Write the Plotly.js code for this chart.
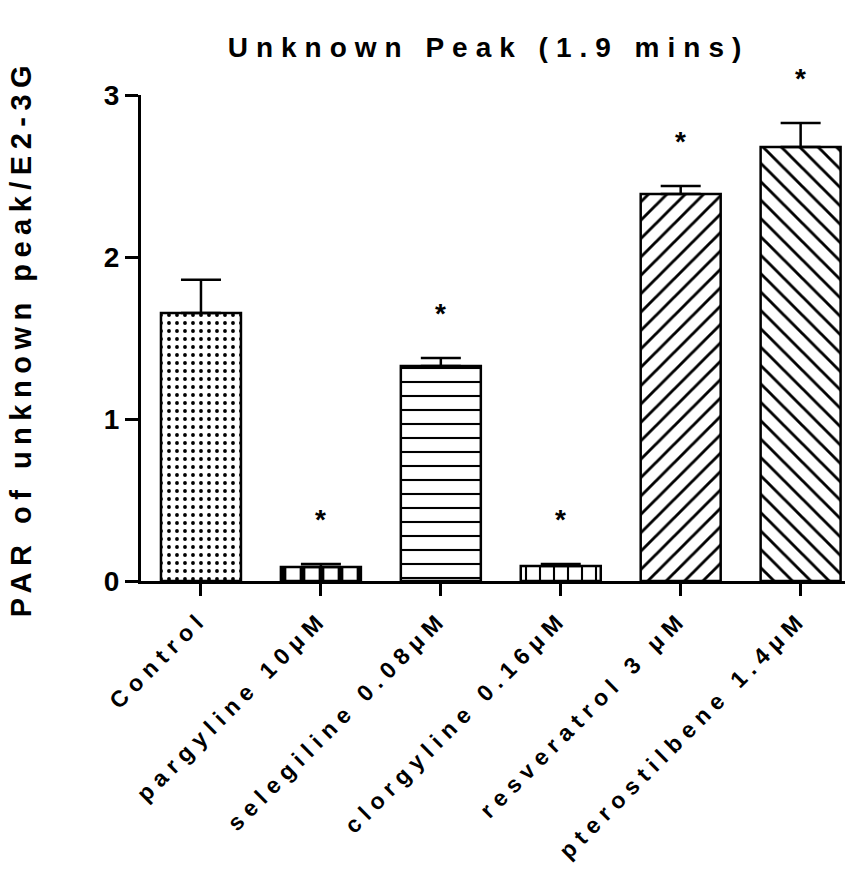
<!DOCTYPE html>
<html>
<head>
<meta charset="utf-8">
<script src="https://cdn.plot.ly/plotly-3.0.1.min.js"></script>
<style>
  body { margin: 0; padding: 0; background: #fff; }
  #chart { width: 854px; height: 869px; }
  .gtitle { letter-spacing: 8px; }
  .xtick text { letter-spacing: 6.5px; }
  .ytitle { letter-spacing: 6.5px; }
</style>
</head>
<body>
<div id="chart"></div>
<script>
// ---- data ----
const categories = ["Control", "pargyline 10μM", "selegiline 0.08μM", "clorgyline 0.16μM", "resveratrol 3 μM", "pterostilbene 1.4μM"];
const values = [1.655, 0.086, 1.327, 0.093, 2.389, 2.679];
const errors = [0.205, 0.019, 0.050, 0.012, 0.049, 0.148];
const stars = ["", "*", "*", "*", "*", "*"];
const patternShapes = [".", "|", "-", "|", "/", "\\"];
const patternSizes = [8, 19, 14, 14, 13, 13];
const patternSolidity = [0.18, 0.3, 0.15, 0.15, 0.22, 0.22];

const font = "Arial, 'Liberation Sans', Helvetica, sans-serif";

const trace = {
  type: "bar",
  x: categories,
  y: values,
  width: 0.667,
  marker: {
    color: "white",
    line: { color: "black", width: 2.5 },
    pattern: {
      shape: patternShapes,
      size: patternSizes,
      solidity: patternSolidity,
      fgcolor: "black",
      bgcolor: "white",
      fillmode: "replace"
    }
  },
  error_y: {
    type: "data",
    symmetric: false,
    array: errors,
    arrayminus: errors.map(() => 0),
    color: "black",
    thickness: 2.5,
    width: 20
  },
  hoverinfo: "none"
};

const annotations = categories.map((c, i) => ({
  x: c,
  y: values[i] + errors[i],
  xref: "x",
  yref: "y",
  text: stars[i],
  showarrow: false,
  yanchor: "bottom",
  yshift: 27,
  font: { family: font, size: 28, color: "black", weight: "bold" }
})).filter(a => a.text !== "");

const layout = {
  width: 854,
  height: 869,
  margin: { l: 141, r: 9, t: 95, b: 288 },
  paper_bgcolor: "white",
  plot_bgcolor: "white",
  showlegend: false,
  title: {
    text: "Unknown Peak (1.9 mins)",
    x: 0.572,
    xref: "container",
    xanchor: "center",
    y: 0.946,
    yref: "container",
    yanchor: "middle",
    font: { family: font, size: 28, color: "black", weight: "bold" }
  },
  xaxis: {
    type: "category",
    range: [-0.5, 5.37],
    showline: true,
    linecolor: "black",
    linewidth: 3,
    ticks: "outside",
    ticklen: 12,
    tickwidth: 3,
    tickcolor: "black",
    tickangle: -45,
    tickfont: { family: font, size: 23, color: "black", weight: "bold" },
    showgrid: false,
    zeroline: false,
    fixedrange: true
  },
  yaxis: {
    range: [0, 3],
    tickvals: [0, 1, 2, 3],
    ticktext: ["0", "1", "2", "3"],
    showline: true,
    linecolor: "black",
    linewidth: 3,
    ticks: "outside",
    ticklen: 13,
    tickwidth: 3,
    tickcolor: "black",
    tickfont: { family: font, size: 28, color: "black", weight: "bold" },
    showgrid: false,
    zeroline: false,
    fixedrange: true,
    title: {
      text: "PAR of unknown peak/E2-3G",
      font: { family: font, size: 29, color: "black", weight: "bold" },
      standoff: 64
    }
  },
  annotations: annotations
};

Plotly.newPlot("chart", [trace], layout, { displayModeBar: false, staticPlot: true });
</script>
</body>
</html>
